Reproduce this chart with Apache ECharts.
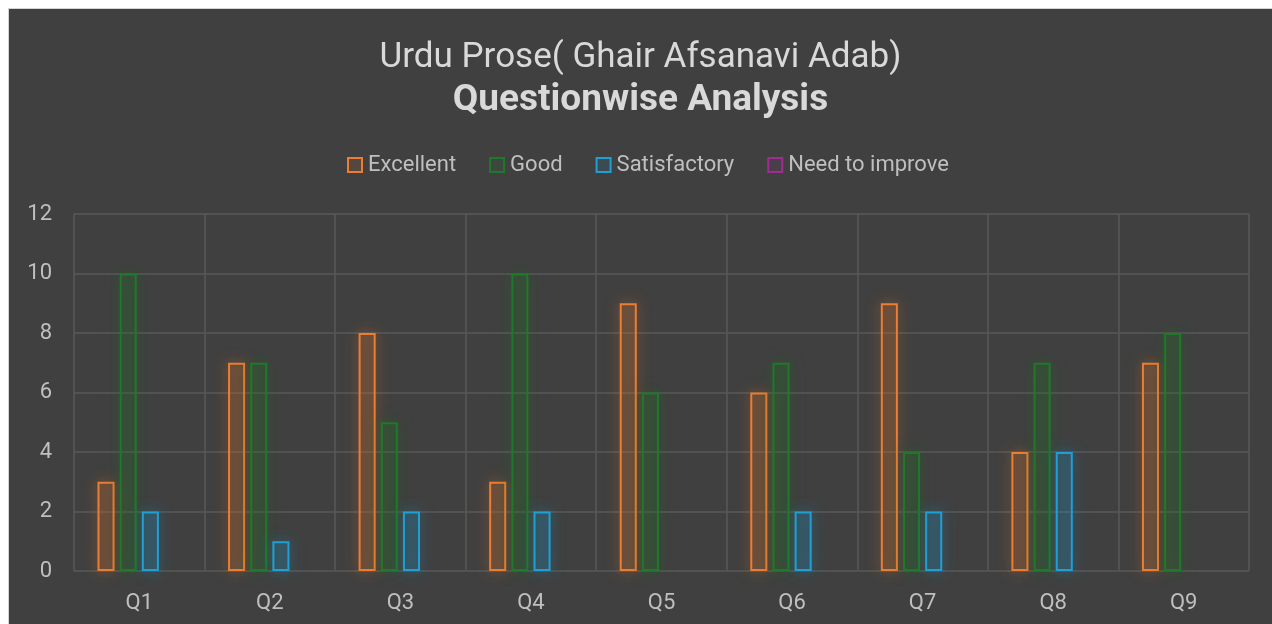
<!DOCTYPE html>
<html>
<head>
<meta charset="utf-8">
<script src="https://cdn.jsdelivr.net/npm/echarts@6/dist/echarts.min.js"></script>
<style>
  html, body { margin: 0; padding: 0; background: #ffffff; }
  #wrap { position: relative; width: 1272px; height: 624px; background: #ffffff; }
  #chart { position: absolute; left: 8px; top: 8px; width: 1264px; height: 616px;
           border-left: 1px solid #d4d4d4; border-top: 1px solid #d4d4d4; box-sizing: border-box; }
</style>
</head>
<body>
<div id="wrap"><div id="chart"></div></div>
<script>
// Question categories and rating counts per question
const questions = ['Q1', 'Q2', 'Q3', 'Q4', 'Q5', 'Q6', 'Q7', 'Q8', 'Q9'];
const excellent = [3, 7, 8, 3, 9, 6, 9, 4, 7];
const good = [10, 7, 5, 10, 6, 7, 4, 7, 8];
const satisfactory = [2, 1, 2, 2, null, 2, 2, 4, null];
const needToImprove = [null, null, null, null, null, null, null, null, null];
const yTicks = [0, 2, 4, 6, 8, 10, 12];

const fontFamily = 'Roboto, "Noto Sans", sans-serif';

function outlinedBar(name, data, rgb) {
  return {
    name: name,
    type: 'bar',
    data: data,
    barGap: '30%',
    barCategoryGap: '36%',
    itemStyle: {
      color: 'rgba(' + rgb + ',0.12)',
      borderColor: 'rgb(' + rgb + ')',
      borderWidth: 2,
      shadowBlur: 14,
      shadowColor: 'rgba(' + rgb + ',0.7)'
    },
    emphasis: { disabled: true }
  };
}

const chart = echarts.init(document.getElementById('chart'), null, { renderer: 'canvas' });
chart.setOption({
  backgroundColor: '#404040',
  animation: false,
  title: [
    {
      text: 'Urdu Prose( Ghair Afsanavi Adab)',
      left: 'center', top: 24,
      textStyle: { color: '#d9d9d9', fontSize: 35, fontWeight: 'normal', fontFamily: fontFamily, lineHeight: 40 }
    },
    {
      text: 'Questionwise Analysis',
      left: 'center', top: 67,
      textStyle: { color: '#d9d9d9', fontSize: 37, fontWeight: 'bold', fontFamily: fontFamily, lineHeight: 40 }
    }
  ],
  legend: {
    top: 140,
    left: 333,
    itemWidth: 14,
    itemHeight: 14,
    itemGap: 33,
    icon: 'rect',
    textStyle: { color: '#bfbfbf', fontSize: 22, fontFamily: fontFamily, padding: [0, 0, 0, 1] },
    data: ['Excellent', 'Good', 'Satisfactory', 'Need to improve']
  },
  grid: { left: 65, right: 23, top: 205, bottom: 53, containLabel: false },
  xAxis: {
    type: 'category',
    data: questions,
    axisLine: { show: false },
    axisTick: { show: false },
    axisLabel: { color: '#bfbfbf', fontSize: 22, fontFamily: fontFamily, margin: 21 },
    splitLine: { show: true, lineStyle: { color: '#595959', width: 1.5 } }
  },
  yAxis: {
    type: 'value',
    min: yTicks[0],
    max: yTicks[yTicks.length - 1],
    interval: 2,
    axisLine: { show: false },
    axisTick: { show: false },
    axisLabel: { color: '#bfbfbf', fontSize: 22, fontFamily: fontFamily, margin: 22 },
    splitLine: { lineStyle: { color: '#595959', width: 1.5 } }
  },
  series: [
    outlinedBar('Excellent', excellent, '237,125,49'),
    outlinedBar('Good', good, '30,122,40'),
    outlinedBar('Satisfactory', satisfactory, '30,160,215'),
    outlinedBar('Need to improve', needToImprove, '160,43,147')
  ]
});
</script>
</body>
</html>
